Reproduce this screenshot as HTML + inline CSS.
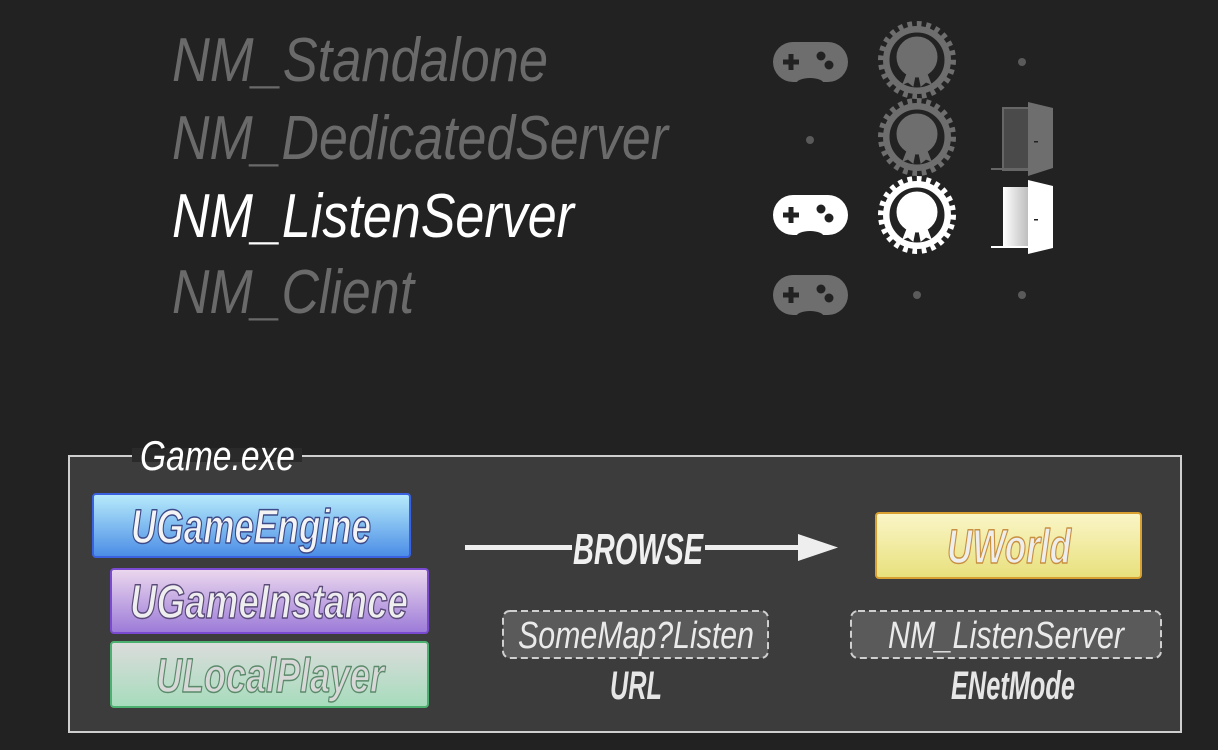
<!DOCTYPE html>
<html><head><meta charset="utf-8"><style>
html,body{margin:0;padding:0;background:#222;}
svg{display:block;}
text{font-family:"Liberation Sans Narrow","Liberation Sans",sans-serif;font-style:italic;}
</style></head><body>
<svg width="1218" height="750" viewBox="0 0 1218 750" xmlns="http://www.w3.org/2000/svg">
<defs>
<linearGradient id="gb" x1="0" y1="0" x2="0" y2="1"><stop offset="0" stop-color="#b8ecfb"/><stop offset="1" stop-color="#4a8ce6"/></linearGradient>
<linearGradient id="gp" x1="0" y1="0" x2="0" y2="1"><stop offset="0" stop-color="#ecd8ee"/><stop offset="1" stop-color="#9b7ad8"/></linearGradient>
<linearGradient id="gg" x1="0" y1="0" x2="0" y2="1"><stop offset="0" stop-color="#dcdcdc"/><stop offset="1" stop-color="#a6dcbc"/></linearGradient>
<linearGradient id="gy" x1="0" y1="0" x2="0" y2="1"><stop offset="0" stop-color="#faf6c8"/><stop offset="1" stop-color="#e8e07c"/></linearGradient>
<linearGradient id="gd" x1="0" y1="0" x2="1" y2="0"><stop offset="0" stop-color="#fff"/><stop offset="1" stop-color="#bbb"/></linearGradient>
<g id="pad">
<rect x="-37" y="-20" width="75" height="40" rx="20"/>
<ellipse cx="0" cy="22" rx="14" ry="6" fill="#222"/>
<rect x="-27" y="-2.5" width="16" height="5" fill="#222"/>
<rect x="-21.5" y="-8" width="5" height="16" fill="#222"/>
<circle cx="11" cy="-6" r="4.5" fill="#222"/>
<circle cx="19" cy="3" r="4.5" fill="#222"/>
</g>
<g id="medal">
<circle r="34" stroke-width="0"/>
<circle r="36" fill="none" stroke-width="6" stroke-dasharray="4.7 4.7"/>
<circle r="28" fill="#222"/>
<circle cy="-3" r="20"/>
<path d="M-10 14 L-2 16 L-4 26 L-9 22 L-14 24 Z M10 14 L2 16 L4 26 L9 22 L14 24 Z"/>
</g>
</defs>

<!-- top labels -->
<g font-size="62">
<text x="172" y="81" fill="#6a6a6a" textLength="376" lengthAdjust="spacingAndGlyphs">NM_Standalone</text>
<text x="172" y="159" fill="#6a6a6a" textLength="496" lengthAdjust="spacingAndGlyphs">NM_DedicatedServer</text>
<text x="172" y="237" fill="#ffffff" textLength="402" lengthAdjust="spacingAndGlyphs">NM_ListenServer</text>
<text x="172" y="313" fill="#6a6a6a" textLength="242" lengthAdjust="spacingAndGlyphs">NM_Client</text>
</g>

<!-- icons -->
<use href="#pad" x="810" y="62" fill="#6e6e6e"/>
<use href="#pad" x="810" y="215" fill="#ffffff"/>
<use href="#pad" x="810" y="295" fill="#6e6e6e"/>
<g fill="#6e6e6e" stroke="#6e6e6e"><use href="#medal" x="917" y="60"/><use href="#medal" x="917" y="137"/></g>
<g fill="#ffffff" stroke="#ffffff"><use href="#medal" x="917" y="215"/></g>
<g fill="#5a5a5a">
<circle cx="1022" cy="62" r="4"/><circle cx="810" cy="140" r="4"/>
<circle cx="917" cy="295" r="4"/><circle cx="1022" cy="295" r="4"/>
</g>
<!-- doors -->
<rect x="1003" y="108" width="26" height="62" fill="#4a4a4a" stroke="#666" stroke-width="2"/>
<rect x="991" y="168" width="38" height="2" fill="#666"/>
<polygon points="1028,102 1053,108 1053,168 1028,176" fill="#6e6e6e"/>
<rect x="1003" y="187" width="26" height="61" fill="url(#gd)"/>
<rect x="991" y="246" width="38" height="2" fill="#fff"/>
<polygon points="1028,180 1053,186 1053,248 1028,254" fill="#ffffff"/>
<rect x="1034" y="141" width="4" height="1.5" fill="#222"/>
<rect x="1034" y="219" width="4" height="1.5" fill="#222"/>

<!-- Game.exe box -->
<rect x="69" y="456" width="1112" height="276" fill="#3c3c3c" stroke="#cfcfcf" stroke-width="2"/>
<rect x="132" y="448" width="170" height="14" fill="#2a2a2a"/>
<text x="140" y="470" font-size="42" fill="#fff" textLength="155" lengthAdjust="spacingAndGlyphs">Game.exe</text>

<g font-size="48" font-weight="bold" text-anchor="middle" stroke-linejoin="round">
<rect x="93" y="494" width="317" height="63" rx="3" fill="url(#gb)" stroke="#3a62e0" stroke-width="2"/>
<text x="251" y="543" fill="#f4f4f4" stroke="#3d4a8a" stroke-width="1.5" textLength="240" lengthAdjust="spacingAndGlyphs">UGameEngine</text>
<rect x="111" y="569" width="317" height="64" rx="3" fill="url(#gp)" stroke="#7a4ad0" stroke-width="2"/>
<text x="269" y="618" fill="#eeeeee" stroke="#5a4a7a" stroke-width="1.5" textLength="278" lengthAdjust="spacingAndGlyphs">UGameInstance</text>
<rect x="111" y="642" width="317" height="65" rx="3" fill="url(#gg)" stroke="#4cb070" stroke-width="2"/>
<text x="270" y="692" fill="#d8d8d8" stroke="#5a8a6a" stroke-width="1.5" textLength="228" lengthAdjust="spacingAndGlyphs">ULocalPlayer</text>
<rect x="876" y="513" width="265" height="65" rx="3" fill="url(#gy)" stroke="#d8a030" stroke-width="2"/>
<text x="1009" y="563" fill="#eeeeee" stroke="#c89040" stroke-width="1.5" textLength="124" lengthAdjust="spacingAndGlyphs">UWorld</text>
</g>

<!-- arrow -->
<rect x="465" y="545" width="107" height="5" fill="#eee"/>
<rect x="705" y="545" width="97" height="5" fill="#eee"/>
<polygon points="798,534 838,547.5 798,561" fill="#eee"/>
<text x="638" y="564" font-size="44" font-weight="bold" fill="#f0f0f0" text-anchor="middle" textLength="130" lengthAdjust="spacingAndGlyphs">BROWSE</text>

<!-- dashed boxes -->
<rect x="503" y="611" width="265" height="47" rx="7" fill="#5a5a5a" stroke="#cfcfcf" stroke-width="2" stroke-dasharray="7 4"/>
<text x="636" y="648" font-size="38" fill="#eaeaea" text-anchor="middle" textLength="236" lengthAdjust="spacingAndGlyphs">SomeMap?Listen</text>
<rect x="851" y="611" width="310" height="47" rx="7" fill="#5a5a5a" stroke="#cfcfcf" stroke-width="2" stroke-dasharray="7 4"/>
<text x="1006" y="648" font-size="38" fill="#eaeaea" text-anchor="middle" textLength="236" lengthAdjust="spacingAndGlyphs">NM_ListenServer</text>
<text x="636" y="699" font-size="40" font-weight="bold" fill="#e6e6e6" text-anchor="middle" textLength="52" lengthAdjust="spacingAndGlyphs">URL</text>
<text x="1013" y="699" font-size="40" font-weight="bold" fill="#e6e6e6" text-anchor="middle" textLength="124" lengthAdjust="spacingAndGlyphs">ENetMode</text>
</svg>
</body></html>
